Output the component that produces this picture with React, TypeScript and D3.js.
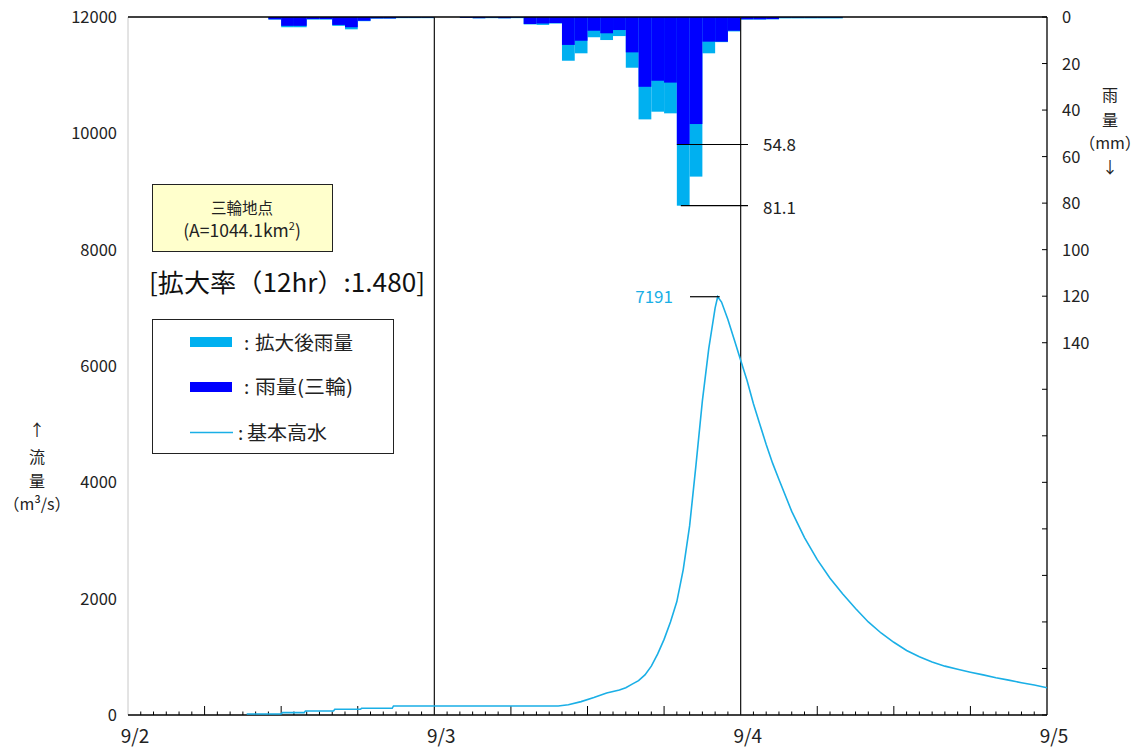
import React from "react";
import * as d3 from "d3";

// ---- data ----
const dayLabels = ["9/2", "9/3", "9/4", "9/5"];
const flowTicks = [0, 2000, 4000, 6000, 8000, 10000, 12000];
const rainTickLabels = [0, 20, 40, 60, 80, 100, 120, 140];
const rainTicksAll = d3.range(0, 301, 20);

// hourly rainfall (hour index from 9/2 0:00)
const rainHours = [11, 12, 13, 14, 15, 16, 17, 18, 19, 20, 21, 22, 23, 26, 27, 28, 29, 30, 31, 32, 33, 34, 35, 36, 37, 38, 39, 40, 41, 42, 43, 44, 45, 46, 47, 48, 49, 50, 51, 52, 53, 54, 55];
const rainObserved = [1.0, 3.8, 3.8, 0.9, 0.9, 3.4, 4.4, 1.6, 0.6, 0.6, 0.2, 0.2, 0.2, 0.3, 0.5, 0.2, 0.5, 0.2, 3.0, 2.8, 2.6, 12.0, 10.2, 5.9, 7.0, 5.6, 15.2, 30.0, 27.4, 28.2, 54.8, 46.0, 10.6, 10.6, 5.9, 1.0, 1.0, 0.9, 0.2, 0.2, 0.2, 0.2, 0.2];
const rainExpanded = [1.1, 4.4, 4.4, 1.1, 1.1, 3.8, 5.3, 1.8, 0.7, 0.7, 0.5, 0.5, 0.5, 0.4, 0.6, 0.5, 0.6, 0.5, 3.2, 3.4, 2.8, 18.8, 15.6, 8.7, 9.9, 8.2, 21.8, 44.0, 40.7, 41.4, 81.1, 68.6, 15.6, 10.8, 6.2, 1.1, 1.1, 1.0, 0.6, 0.6, 0.6, 0.6, 0.6];

// basic high water discharge hydrograph
const flowTimes = [9.3, 12, 12.1, 13.8, 13.9, 16.1, 16.2, 18.2, 18.3, 20.7, 20.8, 33.7, 34.5, 35.5, 36.5, 37.5, 38.5, 39, 39.5, 40, 40.5, 41, 41.5, 42, 42.5, 43, 43.5, 44, 44.5, 45, 45.5, 46, 46.2, 46.5, 47, 47.5, 48, 48.5, 49, 49.5, 50, 50.5, 51, 52, 53, 54, 55, 56, 57, 58, 59, 60, 61, 62, 63, 64, 65, 66, 67, 68, 69, 70, 71, 72];
const flowValues = [17, 17, 40, 40, 69, 69, 98, 98, 115, 115, 155, 155, 175, 230, 300, 380, 430, 470, 530, 590, 690, 840, 1050, 1300, 1600, 1950, 2500, 3250, 4300, 5400, 6300, 7000, 7191, 7100, 6800, 6450, 6100, 5750, 5350, 5000, 4650, 4330, 4050, 3500, 3050, 2670, 2350, 2080, 1830, 1600, 1410, 1250, 1110, 1000, 910, 840, 785, 735, 690, 640, 600, 555, 515, 470];

const peakFlow = 7191;
const peakTime = 46.2;
const peakRainObs = 54.8;
const peakRainExp = 81.1;
const peakRainHour = 43;

const LIGHT = "#00B0F0";
const DARK = "#0000FF";
const LINE = "#1AAFE6";
const FONT = "'Noto Sans CJK JP', 'Noto Sans', sans-serif";

export default function App() {
  const W = 1141, H = 749;
  const L = 128, R = 1047, T = 17, B = 715;
  const x = d3.scaleLinear().domain([0, 72]).range([L, R]);
  const yF = d3.scaleLinear().domain([0, 12000]).range([B, T]);
  const yR = d3.scaleLinear().domain([0, 300]).range([T, B]);

  const line = d3.line<number>()
    .x((_, i) => x(flowTimes[i]))
    .y((d) => yF(d));

  const hourTicks = d3.range(1, 72).filter((h) => h % 24 !== 0);

  return (
    <svg width={W} height={H} style={{ position: "absolute", left: 0, top: 0, background: "#fff" }} fontFamily={FONT}>
      {/* rain bars */}
      {rainHours.map((h, i) => (
        <rect key={"e" + i} x={x(h)} y={T} width={x(h + 1) - x(h)} height={yR(rainExpanded[i]) - T} fill={LIGHT} />
      ))}
      {rainHours.map((h, i) => (
        <rect key={"o" + i} x={x(h)} y={T} width={x(h + 1) - x(h)} height={yR(rainObserved[i]) - T} fill={DARK} />
      ))}

      {/* frame */}
      <line x1={L} x2={L} y1={T} y2={B} stroke="#c8c8c8" strokeWidth={1} />
      <line x1={L} x2={R} y1={T} y2={T} stroke="#000" strokeWidth={1.3} />
      <line x1={L} x2={R} y1={B} y2={B} stroke="#000" strokeWidth={1.3} />
      <line x1={R} x2={R} y1={T} y2={B} stroke="#000" strokeWidth={1.3} />
      {[24, 48].map((h) => (
        <line key={h} x1={x(h)} x2={x(h)} y1={T} y2={B} stroke="#111" strokeWidth={1.2} />
      ))}

      {/* x ticks */}
      {hourTicks.map((h) => (
        <line key={h} x1={x(h)} x2={x(h)} y1={B} y2={B - (h % 6 === 0 ? 9 : 3.5)} stroke="#000" strokeWidth={1} />
      ))}
      {dayLabels.map((d, i) => (
        <text key={d} x={x(i * 24) + 7} y={743} fontSize={19} textAnchor="middle" fill="#222">{d}</text>
      ))}

      {/* left axis labels */}
      {flowTicks.map((v) => (
        <text key={v} x={117} y={yF(v) + 6} fontSize={16.5} textAnchor="end" fill="#222">{v}</text>
      ))}
      <g fontSize={16} textAnchor="middle" fill="#222">
        <text x={37} y={436}>↑</text>
        <text x={37} y={463}>流</text>
        <text x={37} y={487}>量</text>
        <text x={37} y={510}>（m³/s）</text>
      </g>

      {/* right axis */}
      {rainTicksAll.map((v) => (
        <line key={v} x1={R} x2={R - 5} y1={yR(v)} y2={yR(v)} stroke="#000" strokeWidth={1} />
      ))}
      {rainTickLabels.map((v) => (
        <text key={v} x={1062} y={yR(v) + 6} fontSize={16.5} fill="#222">{v}</text>
      ))}
      <g fontSize={16} textAnchor="middle" fill="#222">
        <text x={1110} y={101}>雨</text>
        <text x={1110} y={126}>量</text>
        <text x={1110} y={149}>（mm）</text>
        <text x={1110} y={173}>↓</text>
      </g>

      {/* flow line */}
      <path d={line(flowValues) || ""} fill="none" stroke={LINE} strokeWidth={1.6} />

      {/* annotations */}
      <line x1={690} x2={x(peakTime) + 2} y1={yF(peakFlow)} y2={yF(peakFlow)} stroke="#000" strokeWidth={1.2} />
      <text x={673} y={yF(peakFlow) + 6} fontSize={17} textAnchor="end" fill={LINE}>{peakFlow}</text>
      <line x1={x(peakRainHour)} x2={748} y1={yR(peakRainObs)} y2={yR(peakRainObs)} stroke="#000" strokeWidth={1.2} />
      <text x={763} y={yR(peakRainObs) + 6} fontSize={17} fill="#222">{peakRainObs}</text>
      <line x1={x(peakRainHour) + 4} x2={748} y1={yR(peakRainExp)} y2={yR(peakRainExp)} stroke="#000" strokeWidth={1.2} />
      <text x={763} y={yR(peakRainExp) + 8} fontSize={17} fill="#222">{peakRainExp}</text>

      {/* info box */}
      <rect x={152.5} y={184.5} width={180} height={67} fill="#FFFFCC" stroke="#222" strokeWidth={1} />
      <text x={242} y={214} fontSize={15.5} textAnchor="middle" fill="#222">三輪地点</text>
      <text x={242} y={237} fontSize={17.5} textAnchor="middle" fill="#222">
        (A=1044.1km<tspan fontSize={11} dy={-7}>2</tspan><tspan dy={7}>)</tspan>
      </text>
      <text x={149} y={292} fontSize={25} fill="#111" textLength={276} lengthAdjust="spacingAndGlyphs">[拡大率（12hr）:1.480]</text>

      {/* legend */}
      <rect x={152.5} y={319.5} width={241} height={134} fill="#fff" stroke="#222" strokeWidth={1} />
      <rect x={190} y={337} width={42} height={10} fill={LIGHT} />
      <text x={244} y={350} fontSize={19} fill="#222">:</text>
      <text x={255} y={350} fontSize={19} fill="#222" textLength={98} lengthAdjust="spacingAndGlyphs">拡大後雨量</text>
      <rect x={190} y={382} width={42} height={10} fill={DARK} />
      <text x={244} y={394} fontSize={19} fill="#222">:</text>
      <text x={255} y={394} fontSize={19} fill="#222" textLength={98} lengthAdjust="spacingAndGlyphs">雨量(三輪)</text>
      <line x1={190} x2={233} y1={432.5} y2={432.5} stroke={LINE} strokeWidth={1.5} />
      <text x={238} y={440} fontSize={19} fill="#222">:</text>
      <text x={247} y={440} fontSize={19} fill="#222" textLength={80} lengthAdjust="spacingAndGlyphs">基本高水</text>
    </svg>
  );
}
